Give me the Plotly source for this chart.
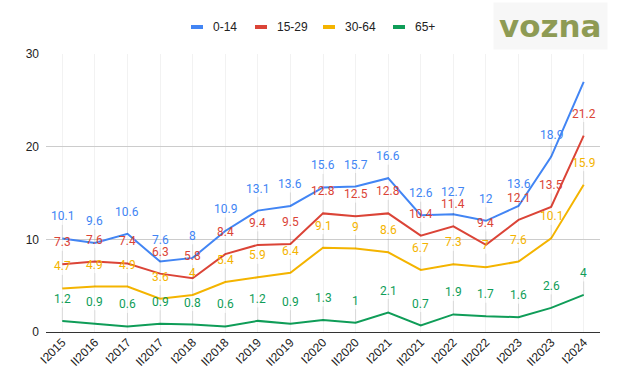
import plotly.graph_objects as go

categories = ["I2015", "II2016", "I2017", "II2017", "I2018", "II2018", "I2019", "II2019",
              "I2020", "II2020", "I2021", "II2021", "I2022", "II2022", "I2023", "II2023", "I2024"]
s_0_14 = [10.1, 9.6, 10.6, 7.6, 8, 10.9, 13.1, 13.6, 15.6, 15.7, 16.6, 12.6, 12.7, 12, 13.6, 18.9, 27]
s_15_29 = [7.3, 7.6, 7.4, 6.3, 5.8, 8.4, 9.4, 9.5, 12.8, 12.5, 12.8, 10.4, 11.4, 9.4, 12.1, 13.5, 21.2]
s_30_64 = [4.7, 4.9, 4.9, 3.6, 4, 5.4, 5.9, 6.4, 9.1, 9, 8.6, 6.7, 7.3, 7, 7.6, 10.1, 15.9]
s_65 = [1.2, 0.9, 0.6, 0.9, 0.8, 0.6, 1.2, 0.9, 1.3, 1, 2.1, 0.7, 1.9, 1.7, 1.6, 2.6, 4]

series = [
    ("0-14", s_0_14, "#4285F4"),
    ("15-29", s_15_29, "#DB4437"),
    ("30-64", s_30_64, "#F4B400"),
    ("65+", s_65, "#0F9D58"),
]
# label hidden in the reference (clipped at the top)
hidden = {("0-14", 16)}

FONT = "Roboto, Arial, sans-serif"
AXFONT = "Liberation Sans, Arial, sans-serif"
W, H = 620, 386
ML, MR, MT, MB = 46, 20, 54, 54
PW, PH = W - ML - MR, H - MT - MB

def px2x(px):
    return (px - ML) / PW

def py2y(py):
    return 1 + (MT - py) / PH

fig = go.Figure()
annotations = []
shapes = []
for name, vals, color in series:
    fig.add_trace(go.Scatter(x=categories, y=vals, mode="lines", name=name,
                             line=dict(color=color, width=2), showlegend=False,
                             hoverinfo="x+y+name"))
    for i, v in enumerate(vals):
        if (name, i) in hidden:
            continue
        annotations.append(dict(
            x=categories[i], y=v, xref="x", yref="y",
            text=f"{v:g}", showarrow=True, arrowhead=0, arrowwidth=1,
            arrowcolor="rgba(0,0,0,0.10)", ax=0, ay=-22, standoff=0,
            font=dict(family=FONT, size=12, color=color)))

# manual legend (Google-Charts style: short thick swatch + label)
legend_sym_px = [191, 255, 323, 393]
ly = py2y(27)
for (name, vals, color), sx in zip(series, legend_sym_px):
    shapes.append(dict(type="line", xref="paper", yref="paper",
                       x0=px2x(sx), x1=px2x(sx + 12), y0=ly, y1=ly,
                       line=dict(color=color, width=4)))
    annotations.append(dict(x=px2x(sx + 20), y=ly, xref="paper", yref="paper",
                            xanchor="left", yanchor="middle", showarrow=False,
                            text=name, font=dict(family=AXFONT, size=12, color="#222222")))

annotations.append(dict(
    x=px2x(608), y=py2y(26), xref="paper", yref="paper",
    xanchor="right", yanchor="middle", showarrow=False,
    text="<b>vozna</b>", bgcolor="#f7f7f7", borderpad=5,
    font=dict(family="DejaVu Sans, Arial, sans-serif", size=31, color="#8E9B54")))

fig.update_layout(
    width=W, height=H,
    margin=dict(l=ML, r=MR, t=MT, b=MB),
    paper_bgcolor="white", plot_bgcolor="white",
    font=dict(family=FONT, size=12, color="#222222"),
    showlegend=False,
    annotations=annotations,
    shapes=shapes,
    xaxis=dict(type="category", range=[-0.5, 16.5], tickangle=-45, automargin=False,
               showgrid=True, gridcolor="rgba(0,0,0,0.05)", showline=False,
               ticks="", tickfont=dict(family=AXFONT, size=12, color="#222222"),
               zeroline=False),
    yaxis=dict(range=[0, 30], tickvals=[0, 10, 20, 30], showgrid=True, automargin=False,
               gridcolor="#cccccc", zeroline=True, zerolinecolor="#333333",
               zerolinewidth=1, ticks="", ticklabelstandoff=6,
               tickfont=dict(family=AXFONT, size=12, color="#222222")),
)

fig.write_html("out.html", config={"displayModeBar": False},
               post_script="document.body.style.margin='0px';")
